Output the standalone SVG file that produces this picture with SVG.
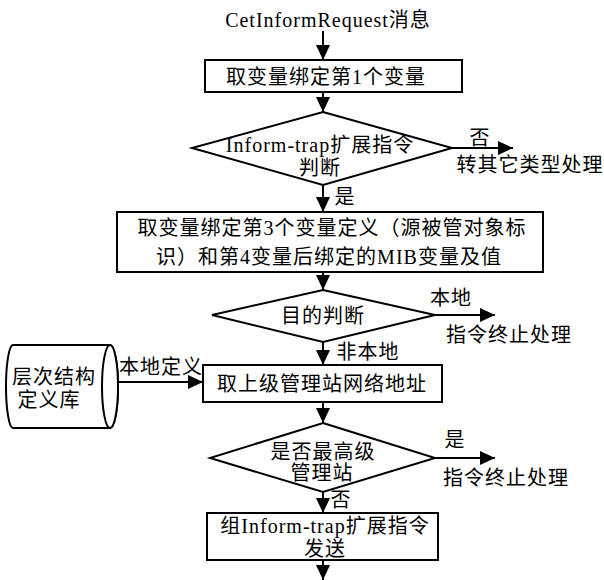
<svg xmlns="http://www.w3.org/2000/svg" width="604" height="580" viewBox="0 0 604 580">
  <style>
    .shape { fill: #fff; stroke: #000; stroke-width: 2; }
    .line { fill: none; stroke: #000; stroke-width: 2; }
    text { font-family: "Liberation Serif", "Noto Sans CJK SC", serif; font-size: 20px; fill: #000; text-anchor: middle; letter-spacing: 1px; }
  </style>
  <defs>
    <marker id="arrow" viewBox="0 0 15 14" refX="15" refY="7" markerWidth="15" markerHeight="14" markerUnits="userSpaceOnUse" orient="auto">
      <path d="M0,0 L15,7 L0,14 z" fill="#000"/>
    </marker>
  </defs>
  <rect width="604" height="580" fill="#fff"/>

  <!-- connectors -->
  <g id="connectors">
    <line class="line" x1="323" y1="31" x2="323" y2="60" marker-end="url(#arrow)"/>
    <line class="line" x1="323" y1="92" x2="323" y2="112" marker-end="url(#arrow)"/>
    <line class="line" x1="452" y1="148" x2="513" y2="148" marker-end="url(#arrow)"/>
    <line class="line" x1="323" y1="185" x2="323" y2="212" marker-end="url(#arrow)"/>
    <line class="line" x1="323" y1="272" x2="323" y2="290" marker-end="url(#arrow)"/>
    <line class="line" x1="435" y1="315" x2="495" y2="315" marker-end="url(#arrow)"/>
    <line class="line" x1="323" y1="342" x2="323" y2="365" marker-end="url(#arrow)"/>
    <line class="line" x1="118" y1="382" x2="203" y2="382" marker-end="url(#arrow)"/>
    <line class="line" x1="323" y1="402" x2="323" y2="423" marker-end="url(#arrow)"/>
    <line class="line" x1="435" y1="458" x2="495" y2="458" marker-end="url(#arrow)"/>
    <line class="line" x1="323" y1="492" x2="323" y2="513" marker-end="url(#arrow)"/>
    <line class="line" x1="323" y1="560" x2="323" y2="580" marker-end="url(#arrow)"/>

    <text x="480" y="145">否</text>
    <text x="530" y="172">转其它类型处理</text>
    <text x="345" y="204">是</text>
    <text x="451" y="305">本地</text>
    <text x="509" y="342">指令终止处理</text>
    <text x="368" y="359">非本地</text>
    <text x="161" y="374">本地定义</text>
    <text x="455" y="447">是</text>
    <text x="506" y="485">指令终止处理</text>
    <text x="341" y="507">否</text>
  </g>

  <!-- start message -->
  <g id="start">
    <text x="328" y="27">CetInformRequest消息</text>
  </g>

  <g id="getFirstVar">
    <rect class="shape" x="205" y="60" width="257" height="32"/>
    <text x="326" y="84">取变量绑定第1个变量</text>
  </g>

  <g id="checkInformTrap">
    <polygon class="shape" points="323,112 452,148 323,185 192,148"/>
    <text x="320" y="152">Inform-trap扩展指令</text>
    <text x="320" y="175">判断</text>
  </g>

  <g id="getVarBindings">
    <rect class="shape" x="117" y="212" width="426" height="60"/>
    <text x="332" y="235">取变量绑定第3个变量定义（源被管对象标</text>
    <text x="329" y="264">识）和第4变量后绑定的MIB变量及值</text>
  </g>

  <g id="checkDestination">
    <polygon class="shape" points="323,290 435,315 323,342 212,315"/>
    <text x="323" y="323">目的判断</text>
  </g>

  <g id="hierarchyDb">
    <path class="shape" d="M13,345 L110,345 A8,41.5 0 0 1 110,428 L13,428 A7,41.5 0 0 1 13,345 Z"/>
    <ellipse class="shape" cx="110" cy="386.5" rx="8" ry="41.5"/>
    <text x="54" y="384">层次结构</text>
    <text x="49" y="407">定义库</text>
  </g>

  <g id="getParentAddress">
    <rect class="shape" x="203" y="365" width="239" height="37"/>
    <text x="322" y="391">取上级管理站网络地址</text>
  </g>

  <g id="checkTopLevel">
    <polygon class="shape" points="323,423 435,458 323,492 210,458"/>
    <text x="323" y="459">是否最高级</text>
    <text x="322" y="480">管理站</text>
  </g>

  <g id="sendInformTrap">
    <rect class="shape" x="207" y="513" width="231" height="47"/>
    <text x="325" y="533">组Inform-trap扩展指令</text>
    <text x="325" y="556">发送</text>
  </g>
</svg>
